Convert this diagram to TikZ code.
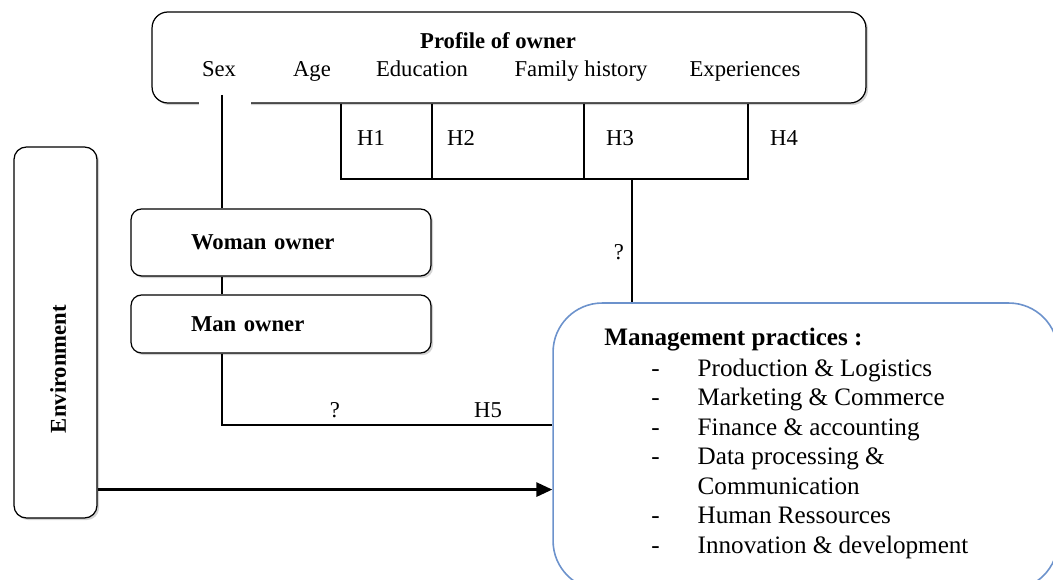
\documentclass[tikz,border=0pt]{standalone}
\usepackage{fontspec}
\setmainfont{Liberation Serif}
\usepackage{tikz}
\usetikzlibrary{arrows.meta, positioning, calc, shadows}
\usepackage{xcolor}

\definecolor{mpblue}{RGB}{108,146,204}

\tikzset{
  lbl/.style={font=\fontsize{12.9}{15}\selectfont, inner sep=0pt, anchor=base},
  blbl/.style={font=\fontsize{12.9}{15}\selectfont\bfseries, inner sep=0pt},
  shadowbox/.style={draw, fill=white, line width=0.7pt,
    drop shadow={shadow xshift=1.2pt, shadow yshift=-1.2pt, opacity=0.35}},
  ownerbox/.style={shadowbox, rounded corners=6pt, minimum width=6cm,
    text width=3.6cm, inner xsep=1.2cm, align=left,
    font=\fontsize{12.9}{15}\selectfont\bfseries},
}

\begin{document}
\begin{tikzpicture}[>=stealth, x=0.02cm, y=-0.02cm]
    \useasboundingbox (0,0) rectangle (1053,580);

    % profile of owner
    \node[shadowbox, rounded corners=9pt, minimum width=14.28cm, minimum height=1.82cm] (profile) at (509,57.5) {};
    \node[blbl, anchor=base] (title) at (498,49) {Profile of owner};
    \node[lbl] (sex) at (219,77) {Sex};
    \node[lbl] (age) at (312,77) {Age};
    \node[lbl] (educ) at (422,77) {Education};
    \node[lbl] (family) at (581,77) {Family history};
    \node[lbl] (exper) at (745,77) {Experiences};
    \fill[white] (199,100) rectangle (251,108);

    % owners
    \node[ownerbox, minimum height=1.34cm] (woman) at (281,242.5) {Woman owner};
    \node[ownerbox, minimum height=1.16cm] (man) at (281,324) {Man owner};

    % environment
    \node[shadowbox, rounded corners=7pt, minimum width=1.66cm, minimum height=7.42cm] (env) at (55.5,332.5) {};
    \node[blbl, rotate=90] (envlabel) at (58,369) {Environment};

    % management practices
    \node[draw=mpblue, line width=0.9pt, fill=white, rounded corners=28pt,
          minimum width=10.1cm, minimum height=5.74cm] (manage) at (805.5,446.5) {};
    \node[anchor=north west, inner sep=0pt, font=\fontsize{14.3}{16.8}\selectfont] (practices) at (604,324.5) {%
      \renewcommand{\arraystretch}{1}%
      \begin{tabular}{@{\hspace{0.94cm}}l@{\hspace{0.76cm}}l@{}}
        \multicolumn{2}{@{}l@{}}{\bfseries Management practices :}\\[0.6pt]
        - & Production \& Logistics\\
        - & Marketing \& Commerce\\
        - & Finance \& accounting\\
        - & Data processing \&\\
          & Communication\\
        - & Human Ressources\\
        - & Innovation \& development
      \end{tabular}};

    % hypotheses H1 - H4
    \coordinate (hleft) at (341,179);
    \coordinate (hright) at (748,179);
    \coordinate (hdrop) at (632,179);
    \draw[line width=0.6pt] (profile.south -| hleft) -- (hleft) -- (hright) -- (profile.south -| hright);
    \foreach \x in {432,584}
        \draw[line width=0.6pt] (profile.south -| \x,0) -- (\x,179);
    \draw[line width=0.6pt] (hdrop) -- (manage.north -| hdrop);
    \node[lbl] (h1) at (371,146) {H1};
    \node[lbl] (h2) at (461,146) {H2};
    \node[lbl] (h3) at (620,146) {H3};
    \node[lbl] (h4) at (784,146) {H4};
    \node[lbl] (q1) at (619,260) {?};

    % sex -> owners -> H5
    \coordinate (sexdrop) at (222,95);
    \coordinate (h5line) at (222,425);
    \draw[line width=0.6pt] (sexdrop) -- (woman.north -| sexdrop);
    \draw[line width=0.6pt] (woman.south -| sexdrop) -- (man.north -| sexdrop);
    \draw[line width=0.6pt] (man.south -| sexdrop) -- (h5line) -- (h5line -| manage.west);
    \node[lbl] (q2) at (335,417) {?};
    \node[lbl] (h5) at (488,417) {H5};

    % environment -> practices
    \draw[-{Triangle[length=9pt,width=8pt]}, line width=1.4pt] ($(env.south east)+(0,-29)$) -- ($(env.south east -| manage.west)+(0,-29)$);

  \end{tikzpicture}
\end{document}
